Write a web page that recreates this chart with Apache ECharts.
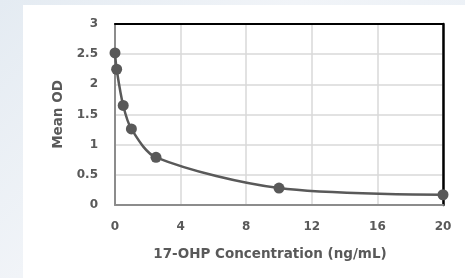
<!DOCTYPE html>
<html>
<head>
<meta charset="utf-8">
<script src="https://cdn.jsdelivr.net/npm/echarts@6/dist/echarts.min.js"></script>
<style>
  html, body { margin: 0; padding: 0; }
  body {
    width: 465px; height: 278px; overflow: hidden;
    background: linear-gradient(135deg, #e4ebf2 0%, #f1f4f8 40%, #e6edf4 100%);
    position: relative;
  }
  .panel {
    position: absolute; left: 23px; top: 5px; right: 0; bottom: 0;
    background: #fff;
  }
  #chart { position: absolute; left: 0; top: 0; width: 465px; height: 278px; }
</style>
</head>
<body>
<div class="panel"></div>
<div id="chart"></div>
<script>
// standard curve points
const concentration = [0, 0.1, 0.5, 1, 2.5, 10, 20];
const meanOD = [2.52, 2.25, 1.65, 1.26, 0.79, 0.28, 0.17];
const xTicks = [0, 4, 8, 12, 16, 20];
const yTicks = [0, 0.5, 1, 1.5, 2, 2.5, 3];

const chart = echarts.init(document.getElementById('chart'));
const textColor = '#595959';
const fontFamily = '"DejaVu Sans", sans-serif';
const labelStyle = { color: textColor, fontSize: 12, fontWeight: 'bold', fontFamily: fontFamily };
const titleStyle = { color: textColor, fontSize: 13.5, fontWeight: 'bold', fontFamily: fontFamily };

chart.setOption({
  backgroundColor: 'transparent',
  animation: false,
  grid: { left: 115, right: 22, top: 24, bottom: 73 },
  xAxis: [{
    type: 'value',
    min: xTicks[0], max: xTicks[xTicks.length - 1], interval: 4,
    name: '17-OHP Concentration (ng/mL)',
    nameLocation: 'middle',
    nameGap: 42,
    nameTextStyle: Object.assign({}, titleStyle, { padding: [0, 18, 0, 0] }),
    axisLine: { lineStyle: { color: '#8c8c8c', width: 2 } },
    axisTick: { show: false },
    axisLabel: Object.assign({}, labelStyle, { margin: 16 }),
    splitLine: { lineStyle: { color: '#d9d9d9', width: 1.5 } }
  }, {
    // top frame edge
    type: 'value', position: 'top',
    min: xTicks[0], max: xTicks[xTicks.length - 1], interval: 4,
    axisLine: { onZero: false, lineStyle: { color: '#000', width: 2 } },
    axisTick: { show: false }, axisLabel: { show: false }, splitLine: { show: false }
  }],
  yAxis: [{
    type: 'value',
    min: yTicks[0], max: yTicks[yTicks.length - 1], interval: 0.5,
    name: 'Mean OD',
    nameLocation: 'middle',
    nameGap: 44,
    nameTextStyle: titleStyle,
    axisLine: { show: true, lineStyle: { color: '#8c8c8c', width: 2 } },
    axisTick: { show: false },
    axisLabel: Object.assign({}, labelStyle, { margin: 17 }),
    splitLine: { lineStyle: { color: '#d9d9d9', width: 1.5 } }
  }, {
    // right frame edge
    type: 'value', position: 'right',
    min: yTicks[0], max: yTicks[yTicks.length - 1], interval: 0.5,
    axisLine: { show: true, onZero: false, lineStyle: { color: '#000', width: 2.5 } },
    axisTick: { show: false }, axisLabel: { show: false }, splitLine: { show: false }
  }],
  series: [{
    type: 'line',
    data: concentration.map((c, i) => [c, meanOD[i]]),
    smooth: 0.3,
    symbol: 'circle',
    symbolSize: 11,
    itemStyle: { color: '#595959' },
    lineStyle: { color: '#595959', width: 2.5 }
  }]
});
</script>
</body>
</html>
